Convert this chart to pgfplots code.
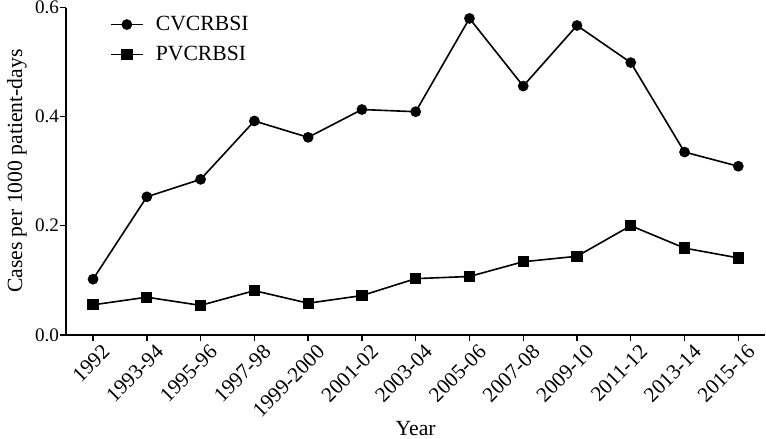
\documentclass[border=0pt]{standalone}
\usepackage{pgfplots}
\pgfplotsset{compat=1.18}
\usepackage{fontspec}
\setmainfont{Liberation Serif}
\begin{document}
\begin{tikzpicture}
\begin{axis}[
  scale only axis,
  width=694pt, height=325pt,
  xmin=-0.5, xmax=12.5,
  ymin=0, ymax=0.6,
  axis x line*=bottom, axis y line*=left,
  axis line style={line width=1.6pt, -},
  xtick={0,...,12},
  xticklabels={1992,1993-94,1995-96,1997-98,1999-2000,2001-02,2003-04,2005-06,2007-08,2009-10,2011-12,2013-14,2015-16},
  ytick={0,0.2,0.4,0.6},
  yticklabel style={/pgf/number format/fixed, /pgf/number format/fixed zerofill, /pgf/number format/precision=1},
  /pgf/number format/assume math mode=true,
  tick align=outside, major tick length=6pt,
  tick style={line width=1.4pt, black},
  x tick label style={rotate=45, anchor=north east, font=\fontsize{21}{21}\selectfont, inner sep=0pt, xshift=4pt, yshift=-7pt},
  y tick label style={font=\fontsize{19}{19}\selectfont, inner sep=1pt},
  xlabel={Year}, ylabel={Cases per 1000 patient-days},
  label style={font=\fontsize{21.5}{21.5}\selectfont},
  ylabel style={inner sep=7pt},
  xlabel style={inner sep=3pt},
  legend style={draw=none, fill=none, at={(0.058,0.985)}, anchor=north west, font=\fontsize{21.5}{21.5}\selectfont, row sep=10pt},
  legend cell align=left,
  legend image code/.code={\draw[mark repeat=2, mark phase=2] plot coordinates {(0pt,0pt) (16pt,0pt) (32pt,0pt)}; \path (42pt,0pt);},
]
\addplot[black, line width=1.6pt, mark=*, mark size=4.5pt] coordinates {
(0,0.102) (1,0.253) (2,0.285) (3,0.392) (4,0.362) (5,0.413) (6,0.409) (7,0.580) (8,0.456) (9,0.567) (10,0.499) (11,0.335) (12,0.309)};
\addlegendentry{CVCRBSI}
\addplot[black, line width=1.6pt, mark=square*, mark size=4.8pt] coordinates {
(0,0.055) (1,0.069) (2,0.054) (3,0.081) (4,0.058) (5,0.072) (6,0.103) (7,0.107) (8,0.134) (9,0.144) (10,0.200) (11,0.159) (12,0.141)};
\addlegendentry{PVCRBSI}
\end{axis}
\end{tikzpicture}
\end{document}
